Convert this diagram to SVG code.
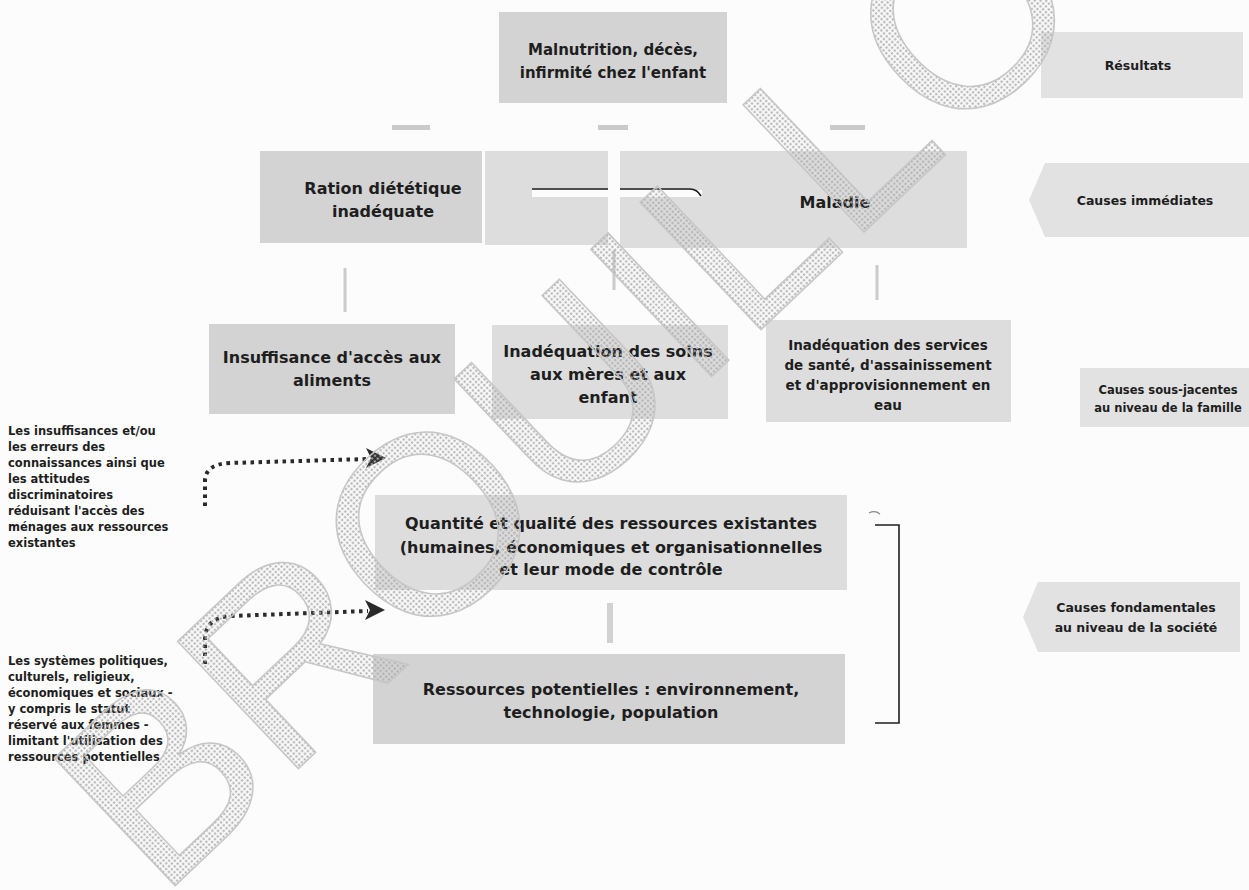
<svg xmlns="http://www.w3.org/2000/svg" width="1249" height="890" viewBox="0 0 1249 890">
<defs>
<style>
.box{fill:#d3d3d3}
.box2{fill:#dddddd}
.lab{fill:#e2e2e2}
.t{font-family:"DejaVu Sans",sans-serif;font-weight:bold;font-size:16px;fill:#1e1e1e;text-anchor:middle;dominant-baseline:central}
.tm{font-family:"DejaVu Sans",sans-serif;font-weight:bold;font-size:15px;fill:#1e1e1e;text-anchor:middle;dominant-baseline:central}
.ts{font-family:"DejaVu Sans",sans-serif;font-weight:bold;font-size:13.5px;fill:#1e1e1e;text-anchor:middle;dominant-baseline:central}
.tl{font-family:"DejaVu Sans",sans-serif;font-weight:bold;font-size:12.5px;fill:#1e1e1e;text-anchor:middle;dominant-baseline:central}
.tx{font-family:"DejaVu Sans",sans-serif;font-weight:bold;font-size:11.5px;fill:#1e1e1e;text-anchor:middle;dominant-baseline:central}
.side{font-family:"DejaVu Sans",sans-serif;font-weight:bold;font-size:11.5px;fill:#1e1e1e;dominant-baseline:central}
.dot{fill:none;stroke:#2a2a2a;stroke-width:4;stroke-dasharray:3.5 4.5}
.chev{fill:#2a2a2a}
.line{fill:none;stroke:#1e1e1e;stroke-width:1.6}
.faint{stroke:#cbcbcb;stroke-width:3}
.mark{fill:#cacaca}
.wm{font-family:"Liberation Sans",sans-serif;font-size:255px;fill:url(#dots);stroke:#c6c6c6;stroke-width:1.5}
</style>
<pattern id="dots" width="4" height="4" patternUnits="userSpaceOnUse"><rect x="0.6" y="0.6" width="2.2" height="2.2" fill="#b0b0b0"/></pattern>
</defs>
<rect width="1249" height="890" fill="#fcfcfc"/>

<g id="node-malnutrition">
<rect class="box" x="499" y="12" width="228" height="91"/>
<text class="tm" x="613" y="50">Malnutrition, décès,</text>
<text class="tm" x="613" y="73">infirmité chez l'enfant</text>
</g>
<g id="label-resultats">
<rect class="lab" x="1041" y="32" width="202" height="66"/>
<text class="tl" x="1138" y="65">Résultats</text>
</g>

<g id="node-ration">
<rect class="box" x="260" y="151" width="222" height="92"/>
<text class="t" x="383" y="188">Ration diététique</text>
<text class="t" x="383" y="211">inadéquate</text>
</g>
<g id="node-middle">
<rect class="box2" x="485" y="151" width="123" height="94"/>
</g>
<g id="node-maladie">
<rect class="box2" x="620" y="151" width="347" height="97"/>
<text class="t" x="835" y="202">Maladie</text>
</g>
<g id="label-immediates">
<polygon class="lab" points="1045,163 1249,163 1249,237 1045,237 1029,200"/>
<text class="tl" x="1145" y="200">Causes immédiates</text>
</g>

<g id="node-insuffisance">
<rect class="box" x="209" y="324" width="246" height="90"/>
<text class="t" x="332" y="357">Insuffisance d'accès aux</text>
<text class="t" x="332" y="380">aliments</text>
</g>
<g id="node-soins">
<rect class="box2" x="492" y="325" width="236" height="94"/>
<text class="t" x="608" y="351">Inadéquation des soins</text>
<text class="t" x="608" y="374">aux mères et aux</text>
<text class="t" x="608" y="397">enfant</text>
</g>
<g id="node-services">
<rect class="box2" x="766" y="320" width="245" height="102"/>
<text class="ts" x="888" y="345">Inadéquation des services</text>
<text class="ts" x="888" y="365">de santé, d'assainissement</text>
<text class="ts" x="888" y="385">et d'approvisionnement en</text>
<text class="ts" x="888" y="405">eau</text>
</g>
<g id="label-sous-jacentes">
<rect class="lab" x="1080" y="368" width="169" height="59"/>
<text class="tx" x="1168" y="390">Causes sous-jacentes</text>
<text class="tx" x="1168" y="408">au niveau de la famille</text>
</g>

<g id="note-connaissances">
<text class="side" x="8" y="431">Les insuffisances et/ou</text>
<text class="side" x="8" y="447">les erreurs des</text>
<text class="side" x="8" y="463">connaissances ainsi que</text>
<text class="side" x="8" y="479">les attitudes</text>
<text class="side" x="8" y="495">discriminatoires</text>
<text class="side" x="8" y="511">réduisant l'accès des</text>
<text class="side" x="8" y="527">ménages aux ressources</text>
<text class="side" x="8" y="543">existantes</text>
</g>

<g id="node-quantite">
<rect class="box2" x="375" y="495" width="472" height="95"/>
<text class="t" x="611" y="523">Quantité et qualité des ressources existantes</text>
<text class="t" x="611" y="547">(humaines, économiques et organisationnelles</text>
<text class="t" x="611" y="569">et leur mode de contrôle</text>
</g>
<g id="node-ressources">
<rect class="box" x="373" y="654" width="472" height="90"/>
<text class="t" x="611" y="689">Ressources potentielles : environnement,</text>
<text class="t" x="611" y="712">technologie, population</text>
</g>
<g id="label-fondamentales">
<polygon class="lab" points="1038,582 1240,582 1240,652 1038,652 1023,617"/>
<text class="tl" x="1136" y="607">Causes fondamentales</text>
<text class="tl" x="1136" y="627">au niveau de la société</text>
</g>

<g id="note-systemes">
<text class="side" x="8" y="661">Les systèmes politiques,</text>
<text class="side" x="8" y="677">culturels, religieux,</text>
<text class="side" x="8" y="693">économiques et sociaux -</text>
<text class="side" x="8" y="709">y compris le statut</text>
<text class="side" x="8" y="725">réservé aux femmes -</text>
<text class="side" x="8" y="741">limitant l'utilisation des</text>
<text class="side" x="8" y="757">ressources potentielles</text>
</g>

<g id="connectors">
<rect class="mark" x="392" y="125" width="38" height="5"/>
<rect class="mark" x="598" y="125" width="30" height="5"/>
<rect class="mark" x="830" y="125" width="35" height="5"/>
<rect x="532" y="190" width="170" height="7" fill="#fcfcfc"/>
<path class="line" d="M532 189 H608"/>
<path class="line" d="M620 189 H690 Q697 189 701 196"/>
<line class="faint" x1="345" y1="268" x2="345" y2="312"/>
<line class="faint" x1="614" y1="250" x2="614" y2="290"/>
<line class="faint" x1="877" y1="265" x2="877" y2="300"/>
<line x1="610" y1="603" x2="610" y2="643" stroke="#d2d2d2" stroke-width="6"/>
<path class="dot" d="M205 506 V480 Q206 464 230 463 L368 459"/>
<path class="chev" d="M366 448 L386 458 L366 468 L371 458 Z"/>
<path class="dot" d="M205 664 V638 Q206 618 230 616 L368 611"/>
<path class="chev" d="M365 600 L385 610 L365 620 L370 610 Z"/>
<path class="line" d="M875 525 H899 V723 H875"/>
<path d="M869 513 q6 -3 11 1" fill="none" stroke="#888" stroke-width="1.2"/>
</g>

<g id="watermark">
<text class="wm" transform="translate(160 900) rotate(-43.5)">BROUILLON</text>
</g>
</svg>
